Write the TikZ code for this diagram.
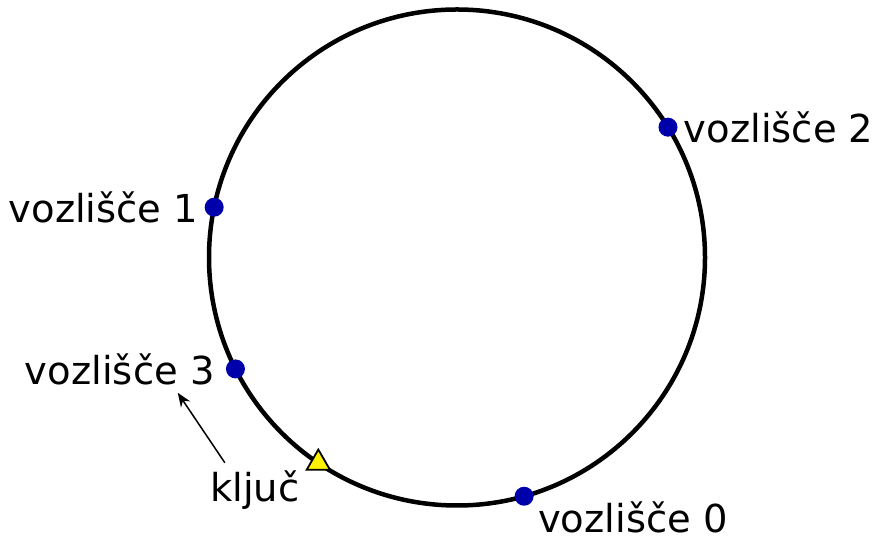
\documentclass[tikz,border=0pt]{standalone}
\usepackage{fontspec}
\setmainfont{DejaVu Sans}
\usetikzlibrary{arrows.meta,calc,positioning,shapes.geometric}

\definecolor{nodeblue}{RGB}{0,0,170}
\tikzset{
  ring/.style={line width=4.5pt},
  peer/.style={circle,fill=nodeblue,inner sep=0pt,minimum size=19pt},
  keymark/.style={regular polygon,regular polygon sides=3,draw,fill=yellow,
    line width=1.8pt,inner sep=0pt,minimum size=27pt},
  lbl/.style={inner sep=0pt,font=\fontsize{38.5}{42}\selectfont}
}

\begin{document}
\begin{tikzpicture}[x=1pt,y=1pt,>=Stealth]
  \useasboundingbox (0,0) rectangle (875,540);
  \coordinate (C) at (457,282.5);
  \draw[ring] (C) circle (248);
  % nodes on the ring
  \node[peer] (n0) at ($(C)+(-74.3:248)$) {};
  \node[peer] (n1) at ($(C)+(168.3:248)$) {};
  \node[peer] (n2) at ($(C)+(31.7:248)$) {};
  \node[peer] (n3) at ($(C)+(206.7:248)$) {};
  \node[keymark] (k) at ($(C)+(236:248)$) {};
  % labels
  \node[lbl,right=6pt of n2] (l2) {vozlišče 2};
  \node[lbl,left=6pt of n1] (l1) {vozlišče 1};
  \node[lbl,left=11pt of n3] (l3) {vozlišče 3};
  \node[lbl,below right=-2pt and 7pt of n0] (l0) {vozlišče 0};
  \node[lbl,below left=0pt and 11pt of k] (lk) {ključ};
  \coordinate (ks) at ($(lk.north)+(-30,8)$);
  \coordinate (ke) at ($(l3.south east)+(-37,-8)$);
  \draw[-{Stealth[length=14pt,width=11pt]},line width=1.5pt] (ks) -- (ke);
\end{tikzpicture}
\end{document}
